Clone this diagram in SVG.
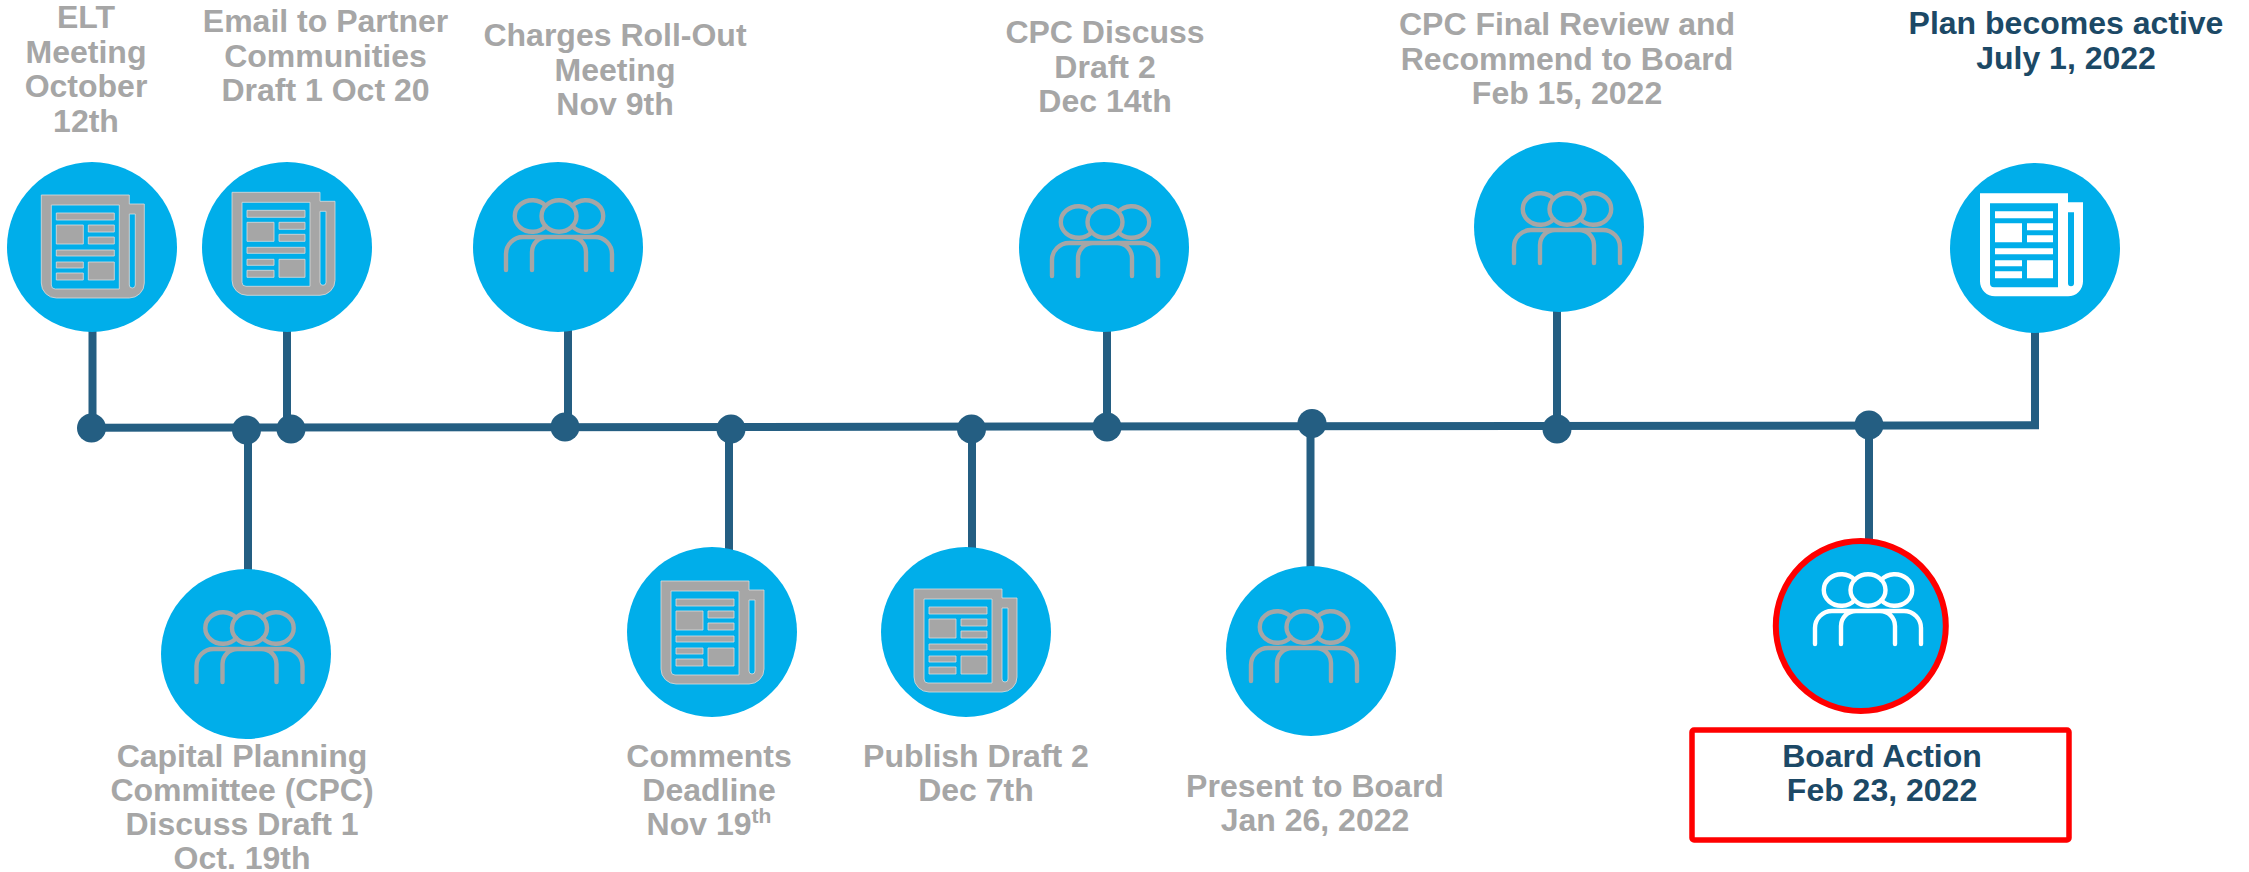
<svg xmlns="http://www.w3.org/2000/svg" width="2249" height="872" viewBox="0 0 2249 872">
<style>
text{font-family:"Liberation Sans",Arial,sans-serif;font-weight:700;font-size:32px;text-anchor:middle}
.g{fill:#a6a6a6}
.d{fill:#1c4966}
.disc{fill:#00aeea}
.line{fill:none;stroke:#245e82;stroke-width:8}
.dot{fill:#245e82}
.iconG{color:#a6a6a6;stroke:#dcdcdc;stroke-width:.8}
.iconW{color:#fff}
.pG{color:#a6a6a6}
.pW{color:#fff}
</style>
<defs>
<g id="paper">
<path fill="currentColor" fill-rule="evenodd" d="M-55-55H33V-46H48V33A15 15 0 0 1 33 48H-40A15 15 0 0 1-55 33ZM-45-45V35Q-45 39-41 39H23V-45ZM33-36V35A3 3 0 0 0 39 35V-36Z"/>
<path fill="currentColor" d="M-40-37H18V-30H-40ZM-40-25H-13V-6H-40ZM-8-25H18V-18H-8ZM-8-13H18V-6H-8ZM-40 0H18V6H-40ZM-40 12H-13V18H-40ZM-40 23H-13V30H-40ZM-8 12H18V30H-8Z"/>
</g>
<g id="people" fill="none" stroke="currentColor" stroke-width="4.400" stroke-linecap="round">
<ellipse cx="0" cy="0" rx="17.500" ry="15.800"/>
<path d="M-13.350-10.200A17.500 15.800 0 1 0-13.350 10.200M13.350-10.200A17.500 15.800 0 1 1 13.350 10.200"/>
<path d="M-53 54V38A17 17 0 0 1-36 21H36A17 17 0 0 1 53 38V54M-27 54V36A15 15 0 0 1-12 21H12A15 15 0 0 1 27 36V54"/>
</g>
</defs>
<g id="connectors">
<path class="line" d="M92 427.800L2039 425.300"/>
<path class="line" d="M92.500 330V428M287 330V428M568 330V427M248 430V571M729 429V550M972 429V550M1107 330V427M1310.500 424V570M1557 310V428M1869 425V540M2035 330V429"/>
<circle class="dot" cx="91.500" cy="428" r="14.500"/>
<circle class="dot" cx="246.500" cy="430" r="14.500"/>
<circle class="dot" cx="291" cy="429" r="14.500"/>
<circle class="dot" cx="565" cy="427" r="14.500"/>
<circle class="dot" cx="731" cy="429" r="14.500"/>
<circle class="dot" cx="971.500" cy="429" r="14.500"/>
<circle class="dot" cx="1107" cy="427" r="14.500"/>
<circle class="dot" cx="1312" cy="423.500" r="14.500"/>
<circle class="dot" cx="1557" cy="429" r="14.500"/>
<circle class="dot" cx="1869" cy="425" r="14.500"/>
</g>
<g id="node-elt">
<circle class="disc" cx="92" cy="247" r="85"/>
<use href="#paper" class="iconG" x="96.300" y="250"/>
<text class="g" x="86" y="28">ELT</text>
<text class="g" x="86" y="62.500">Meeting</text>
<text class="g" x="86" y="97">October</text>
<text class="g" x="86" y="131.500">12th</text>
</g>
<g id="node-email">
<circle class="disc" cx="287" cy="247" r="85"/>
<use href="#paper" class="iconG" x="287" y="247.300"/>
<text class="g" x="325.500" y="32">Email to Partner</text>
<text class="g" x="325.500" y="66.500">Communities</text>
<text class="g" x="325.500" y="101">Draft 1 Oct 20</text>
</g>
<g id="node-charges">
<circle class="disc" cx="558" cy="247" r="85"/>
<use href="#people" class="pG" x="559" y="216"/>
<text class="g" x="615" y="46">Charges Roll-Out</text>
<text class="g" x="615" y="80.500">Meeting</text>
<text class="g" x="615" y="115">Nov 9th</text>
</g>
<g id="node-cpc1">
<circle class="disc" cx="246" cy="654" r="85"/>
<use href="#people" class="pG" x="249.500" y="628"/>
<text class="g" x="242" y="767">Capital Planning</text>
<text class="g" x="242" y="801">Committee (CPC)</text>
<text class="g" x="242" y="835">Discuss Draft 1</text>
<text class="g" x="242" y="869">Oct. 19th</text>
</g>
<g id="node-comments">
<circle class="disc" cx="712" cy="632" r="85"/>
<use href="#paper" class="iconG" x="716" y="636"/>
<text class="g" x="709" y="767">Comments</text>
<text class="g" x="709" y="801">Deadline</text>
<text class="g" x="709" y="835">Nov 19<tspan dy="-12" font-size="21">th</tspan></text>
</g>
<g id="node-publish">
<circle class="disc" cx="966" cy="632" r="85"/>
<use href="#paper" class="iconG" x="969" y="644"/>
<text class="g" x="976" y="767">Publish Draft 2</text>
<text class="g" x="976" y="801">Dec 7th</text>
</g>
<g id="node-cpc2">
<circle class="disc" cx="1104" cy="247" r="85"/>
<use href="#people" class="pG" x="1105" y="222"/>
<text class="g" x="1105" y="43">CPC Discuss</text>
<text class="g" x="1105" y="78">Draft 2</text>
<text class="g" x="1105" y="112">Dec 14th</text>
</g>
<g id="node-present">
<circle class="disc" cx="1311" cy="651" r="85"/>
<use href="#people" class="pG" x="1304" y="627"/>
<text class="g" x="1315" y="797">Present to Board</text>
<text class="g" x="1315" y="831">Jan 26, 2022</text>
</g>
<g id="node-final">
<circle class="disc" cx="1559" cy="227" r="85"/>
<use href="#people" class="pG" x="1567" y="209"/>
<text class="g" x="1567" y="35">CPC Final Review and</text>
<text class="g" x="1567" y="70">Recommend to Board</text>
<text class="g" x="1567" y="104">Feb 15, 2022</text>
</g>
<g id="node-board">
<circle class="disc" cx="1860.800" cy="626" r="85" stroke="#ff0000" stroke-width="6"/>
<use href="#people" class="pW" x="1868" y="590"/>
<rect x="1692" y="730" width="377" height="110" rx="2" fill="none" stroke="#ff0000" stroke-width="5.500"/>
<text class="d" x="1882" y="767">Board Action</text>
<text class="d" x="1882" y="801">Feb 23, 2022</text>
</g>
<g id="node-plan">
<circle class="disc" cx="2035" cy="248" r="85"/>
<use href="#paper" class="iconW" x="2035" y="248.300"/>
<text class="d" x="2066" y="34">Plan becomes active</text>
<text class="d" x="2066" y="69">July 1, 2022</text>
</g>
</svg>
